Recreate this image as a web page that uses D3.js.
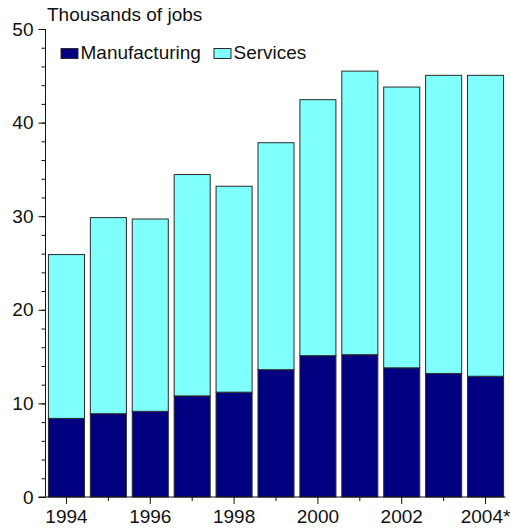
<!DOCTYPE html>
<html>
<head>
<meta charset="utf-8">
<script src="https://cdn.jsdelivr.net/npm/d3@7"></script>
<style>
  body { margin: 0; background: #fff; }
  svg { display: block; font-family: "Liberation Sans", Arial, sans-serif; }
</style>
</head>
<body>
<div id="chart-area"></div>
<script>
const years = ["1994", "1995", "1996", "1997", "1998", "1999", "2000", "2001", "2002", "2003", "2004"]
const yearLabels = { "1994": "1994", "1996": "1996", "1998": "1998", "2000": "2000", "2002": "2002", "2004": "2004*" }
const manufacturing = [8.4, 8.9, 9.15, 10.8, 11.2, 13.6, 15.1, 15.2, 13.8, 13.2, 12.9]
const totals = [25.9, 29.85, 29.7, 34.45, 33.2, 37.85, 42.45, 45.5, 43.8, 45.05, 45.05]
const services = totals.map((t, i) => +(t - manufacturing[i]).toFixed(2))
const seriesNames = ["Manufacturing", "Services"]
const colors = ["#000080", "#80ffff"]

const SVG_WIDTH = 511
const SVG_HEIGHT = 529
const LEFT = 45.5
const RIGHT = 506.5
const TOP = 29
const BOTTOM = 497
const FONT = "19px"

const svg = d3.select("#chart-area").append("svg")
  .attr("width", SVG_WIDTH)
  .attr("height", SVG_HEIGHT)

const x = d3.scaleBand()
  .domain(years)
  .range([LEFT, RIGHT])
  .paddingInner(0.14)
  .paddingOuter(0.07)

const y = d3.scaleLinear()
  .domain([0, 50])
  .range([BOTTOM, TOP])

// stacked data
const table = years.map((yr, i) => ({ year: yr, Manufacturing: manufacturing[i], Services: services[i] }))
const stacked = d3.stack().keys(seriesNames)(table)

svg.append("g").selectAll("g")
  .data(stacked)
  .join("g")
  .attr("fill", (d, i) => colors[i])
  .selectAll("rect")
  .data(d => d)
  .join("rect")
  .attr("x", d => x(d.data.year))
  .attr("width", x.bandwidth())
  .attr("y", d => y(d[1]))
  .attr("height", d => y(d[0]) - y(d[1]))
  .attr("stroke", "#2a2a2a")
  .attr("stroke-width", 1)

// y axis
const yMinor = d3.axisLeft(y).tickValues(d3.range(0, 51, 2)).tickSize(4).tickFormat("")
svg.append("g")
  .attr("transform", `translate(${LEFT}, 0)`)
  .call(yMinor)
  .call(g => g.select(".domain").remove())

const yAxisCall = d3.axisLeft(y).tickValues(d3.range(0, 51, 10)).tickSize(7).tickPadding(5)
svg.append("g")
  .attr("class", "y axis")
  .attr("transform", `translate(${LEFT}, 0)`)
  .call(yAxisCall)
  .call(g => g.select(".domain").attr("d", `M0,${TOP}V${BOTTOM}`))

// x axis
const xMinor = d3.axisBottom(x).tickValues(years.filter((d, i) => i % 2 === 1)).tickSize(4).tickFormat("")
svg.append("g")
  .attr("transform", `translate(0, ${BOTTOM})`)
  .call(xMinor)
  .call(g => g.select(".domain").remove())

const xAxisCall = d3.axisBottom(x)
  .tickValues(years.filter((d, i) => i % 2 === 0))
  .tickSize(7)
  .tickPadding(6)
  .tickFormat(d => yearLabels[d])
svg.append("g")
  .attr("class", "x axis")
  .attr("transform", `translate(0, ${BOTTOM})`)
  .call(xAxisCall)
  .call(g => g.select(".domain").attr("d", `M${LEFT - 7},0H${RIGHT - 1}`))

svg.selectAll(".tick text")
  .attr("font-size", FONT)
  .attr("font-family", "Liberation Sans, Arial, sans-serif")
  .attr("fill", "#111")
svg.selectAll(".domain, .tick line").attr("stroke", "#111")

// title
svg.append("text")
  .attr("x", 47)
  .attr("y", 20.5)
  .attr("font-size", FONT)
  .attr("fill", "#111")
  .text("Thousands of jobs")

// legend
const legendX = [61, 214]
const legend = svg.append("g").selectAll("g")
  .data(seriesNames)
  .join("g")
  .attr("transform", (d, i) => `translate(${legendX[i]}, 48.5)`)

legend.append("rect")
  .attr("width", 17)
  .attr("height", 10)
  .attr("fill", (d, i) => colors[i])
  .attr("stroke", "#2a2a2a")

legend.append("text")
  .attr("x", 19.5)
  .attr("y", 10)
  .attr("font-size", FONT)
  .attr("fill", "#111")
  .text(d => d)
</script>
</body>
</html>
